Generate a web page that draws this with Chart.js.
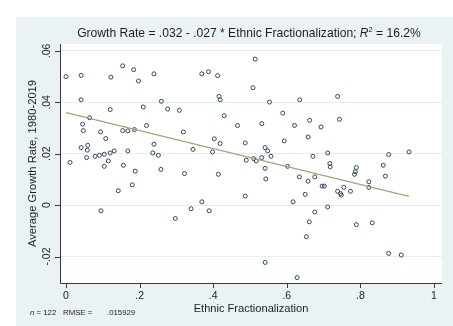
<!DOCTYPE html>
<html><head><meta charset="utf-8">
<script src="https://cdn.jsdelivr.net/npm/chart.js@4/dist/chart.umd.min.js"></script>
<style>html,body{margin:0;padding:0;background:#fff;}canvas{display:block;}</style>
</head><body>
<canvas id="c" width="453" height="326"></canvas>
<script>
const fracX = [0.000,0.041,0.122,0.154,0.184,0.239,0.197,0.041,0.120,0.210,0.259,0.276,0.308,0.064,0.045,0.047,0.094,0.108,0.154,0.168,0.186,0.219,0.319,0.239,0.041,0.059,0.058,0.056,0.079,0.091,0.104,0.120,0.131,0.168,0.236,0.251,0.011,0.104,0.156,0.115,0.188,0.258,0.322,0.180,0.142,0.095,0.297,0.514,0.369,0.387,0.412,0.508,0.416,0.419,0.553,0.635,0.430,0.589,0.466,0.532,0.621,0.662,0.403,0.419,0.487,0.593,0.658,0.345,0.398,0.541,0.548,0.557,0.490,0.510,0.517,0.532,0.602,0.541,0.543,0.414,0.634,0.658,0.650,0.487,0.617,0.369,0.340,0.389,0.661,0.653,0.541,0.628,0.738,0.693,0.743,0.671,0.711,0.877,0.932,0.717,0.718,0.789,0.786,0.862,0.868,0.823,0.823,0.676,0.696,0.702,0.738,0.746,0.748,0.755,0.773,0.711,0.676,0.789,0.832,0.877,0.911,0.784];
const growthY = [0.0500,0.0505,0.0498,0.0542,0.0527,0.0511,0.0483,0.0410,0.0372,0.0382,0.0404,0.0374,0.0369,0.0340,0.0315,0.0290,0.0285,0.0259,0.0290,0.0289,0.0294,0.0310,0.0285,0.0237,0.0224,0.0233,0.0214,0.0185,0.0190,0.0194,0.0198,0.0203,0.0211,0.0211,0.0203,0.0194,0.0166,0.0151,0.0155,0.0172,0.0132,0.0139,0.0123,0.0079,0.0056,-0.0022,-0.0052,0.0568,0.0511,0.0519,0.0504,0.0457,0.0423,0.0410,0.0401,0.0410,0.0348,0.0358,0.0310,0.0317,0.0310,0.0330,0.0258,0.0240,0.0242,0.0250,0.0265,0.0217,0.0207,0.0224,0.0211,0.0190,0.0175,0.0181,0.0172,0.0185,0.0151,0.0143,0.0102,0.0120,0.0110,0.0093,0.0042,0.0035,0.0013,0.0013,-0.0014,-0.0022,-0.0065,-0.0123,-0.0223,-0.0282,0.0423,0.0304,0.0334,0.0190,0.0203,0.0197,0.0207,0.0162,0.0149,0.0146,0.0130,0.0155,0.0113,0.0091,0.0069,0.0110,0.0074,0.0074,0.0054,0.0045,0.0039,0.0069,0.0054,-0.0007,-0.0027,-0.0076,-0.0069,-0.0188,-0.0194,0.0120];
const fitX = [0, 0.932];
const fitY = [0.0360, 0.0034];
const xTickVals = [0, 0.2, 0.4, 0.6, 0.8, 1];
const xTickLabels = ['0', '.2', '.4', '.6', '.8', '1'];
const yTickVals = [-0.02, 0, 0.02, 0.04, 0.06];
const yTickLabels = ['-.02', '0', '.02', '.04', '.06'];
const titleMain = 'Growth Rate = .032 - .027 * Ethnic Fractionalization; ';
const titleR = 'R';
const titleSup = '2';
const titleEnd = ' = 16.2%';
const xTitle = 'Ethnic Fractionalization';
const yTitle = 'Average Growth Rate, 1980-2019';
const noteN = 'n';
const noteA = ' = 122';
const noteB = 'RMSE =';
const noteC = '.015929';

const FONT = '"Liberation Sans", Arial, sans-serif';
const TXT = '#1e1e1e';

const deco = {
  id: 'deco',
  beforeDraw(chart) {
    const ctx = chart.ctx;
    ctx.save();
    ctx.fillStyle = '#ffffff';
    ctx.fillRect(0, 0, chart.width, chart.height);
    ctx.fillStyle = '#eaf2f3';
    ctx.fillRect(16, 17, chart.width - 16, chart.height - 17);
    const a = chart.chartArea;
    ctx.fillStyle = '#ffffff';
    ctx.fillRect(a.left, a.top, a.right - a.left, a.bottom - a.top);
    ctx.restore();
  },
  afterDraw(chart) {
    const ctx = chart.ctx;
    const a = chart.chartArea;
    const xs = chart.scales.x, ys = chart.scales.y;
    ctx.save();
    ctx.strokeStyle = '#3a3a3a';
    ctx.lineWidth = 1;
    ctx.beginPath();
    ctx.moveTo(a.left + 0.5, a.top); ctx.lineTo(a.left + 0.5, a.bottom + 0.5);
    ctx.lineTo(a.right, a.bottom + 0.5);
    ctx.stroke();
    ctx.beginPath();
    yTickVals.forEach(v => {
      const y = Math.round(ys.getPixelForValue(v)) + 0.5;
      ctx.moveTo(a.left - 5, y); ctx.lineTo(a.left, y);
    });
    xTickVals.forEach(v => {
      const x = Math.round(xs.getPixelForValue(v)) + 0.5;
      ctx.moveTo(x, a.bottom); ctx.lineTo(x, a.bottom + 5);
    });
    ctx.stroke();
    ctx.fillStyle = TXT;
    ctx.font = '10.5px ' + FONT;
    ctx.textAlign = 'center';
    ctx.textBaseline = 'middle';
    xTickVals.forEach((v, i) => {
      ctx.fillText(xTickLabels[i], xs.getPixelForValue(v), a.bottom + 13);
    });
    yTickVals.forEach((v, i) => {
      ctx.save();
      ctx.translate(a.left - 13, ys.getPixelForValue(v));
      ctx.rotate(-Math.PI / 2);
      ctx.fillText(yTickLabels[i], 0, 0);
      ctx.restore();
    });
    ctx.font = '11.1px ' + FONT;
    ctx.fillText(xTitle, (a.left + a.right) / 2, a.bottom + 26);
    ctx.save();
    ctx.translate(33, (a.top + a.bottom) / 2);
    ctx.rotate(-Math.PI / 2);
    ctx.font = '11.2px ' + FONT;
    ctx.fillText(yTitle, 0, 0);
    ctx.restore();
    const tf = '12.1px ' + FONT, tfi = 'italic 12.1px ' + FONT, tfs = '7.5px ' + FONT;
    ctx.textAlign = 'left';
    ctx.textBaseline = 'alphabetic';
    ctx.font = tf; const w1 = ctx.measureText(titleMain).width;
    ctx.font = tfi; const w2 = ctx.measureText(titleR).width;
    ctx.font = tfs; const w3 = ctx.measureText(titleSup).width;
    ctx.font = tf; const w4 = ctx.measureText(titleEnd).width;
    let tx = 249 - (w1 + w2 + w3 + w4) / 2;
    const tyb = 37;
    ctx.font = tf; ctx.fillText(titleMain, tx, tyb); tx += w1;
    ctx.font = tfi; ctx.fillText(titleR, tx, tyb); tx += w2;
    ctx.font = tfs; ctx.fillText(titleSup, tx, tyb - 5.5); tx += w3;
    ctx.font = tf; ctx.fillText(titleEnd, tx, tyb);
    ctx.font = 'italic 7.8px ' + FONT;
    ctx.fillText(noteN, 30, 315);
    const nw = ctx.measureText(noteN).width;
    ctx.font = '7.8px ' + FONT;
    ctx.fillText(noteA, 30 + nw, 315);
    ctx.fillText(noteB, 63, 315);
    ctx.fillText(noteC, 107, 315);
    ctx.restore();
  }
};

new Chart(document.getElementById('c'), {
  type: 'scatter',
  data: {
    datasets: [
      {
        type: 'line',
        data: fitX.map((x, i) => ({ x, y: fitY[i] })),
        borderColor: '#a6a479',
        borderWidth: 1.3,
        pointRadius: 0,
        fill: false,
        order: 0
      },
      {
        data: fracX.map((x, i) => ({ x, y: growthY[i] })),
        pointStyle: 'circle',
        pointRadius: 2,
        borderWidth: 1,
        borderColor: '#34475e',
        backgroundColor: 'rgba(255,255,255,0)',
        order: 1
      }
    ]
  },
  options: {
    responsive: false,
    animation: false,
    events: [],
    layout: { padding: { left: 60, top: 44, right: 11, bottom: 43 } },
    plugins: { legend: { display: false }, tooltip: { enabled: false }, title: { display: false } },
    scales: {
      x: {
        type: 'linear',
        min: -0.0163, max: 1.0217,
        afterFit: s => { s.height = 0; },
        afterBuildTicks: s => { s.ticks = xTickVals.map(v => ({ value: v })); },
        ticks: { display: false },
        grid: { display: false },
        border: { display: false }
      },
      y: {
        type: 'linear',
        min: -0.0303, max: 0.0627,
        afterFit: s => { s.width = 0; },
        afterBuildTicks: s => { s.ticks = yTickVals.map(v => ({ value: v })); },
        ticks: { display: false },
        grid: { display: true, color: '#e4eef0', lineWidth: 1, drawTicks: false },
        border: { display: false }
      }
    }
  },
  plugins: [deco]
});
</script>
</body></html>
